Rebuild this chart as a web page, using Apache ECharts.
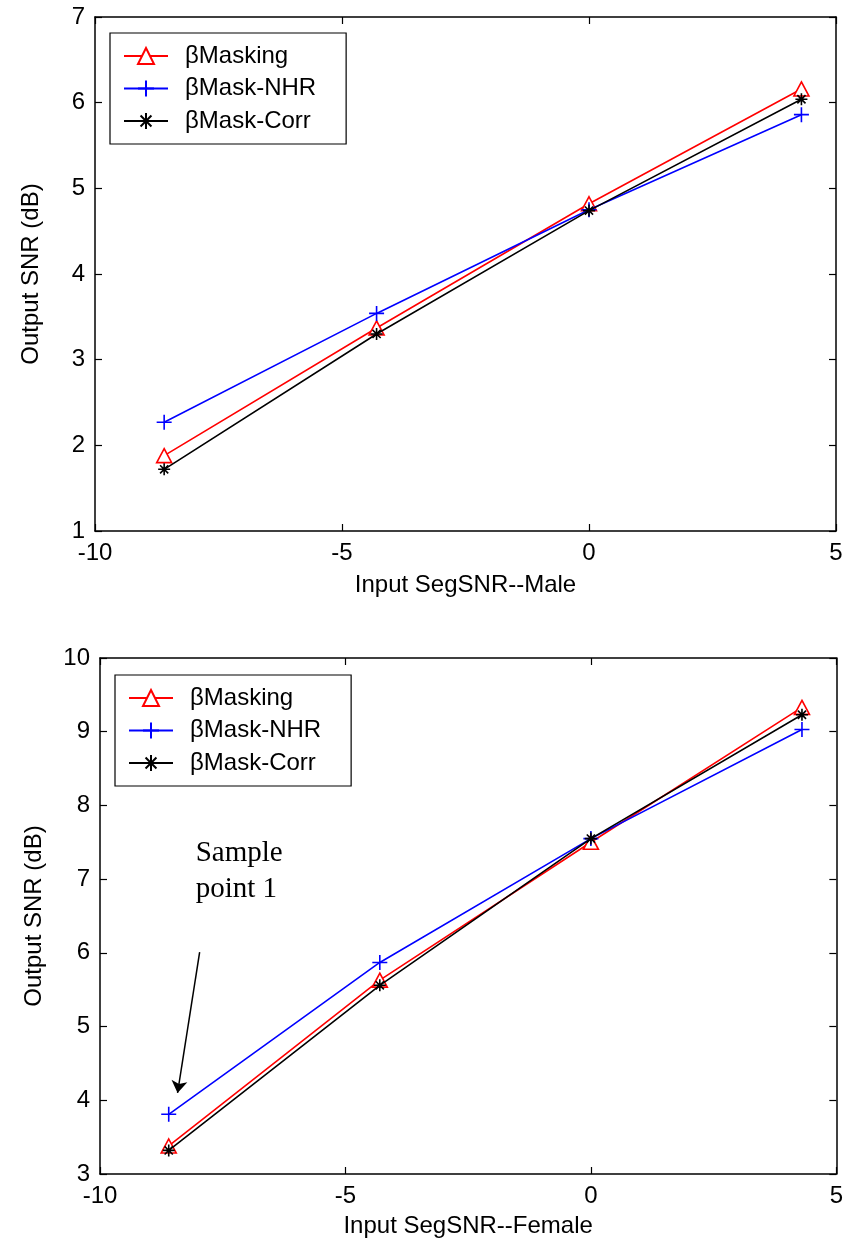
<!DOCTYPE html>
<html>
<head>
<meta charset="utf-8">
<script src="https://cdn.jsdelivr.net/npm/echarts@6/dist/echarts.min.js"></script>
<style>
  html, body { margin: 0; padding: 0; background: #ffffff; }
  #chart { width: 846px; height: 1245px; }
</style>
</head>
<body>
<div id="chart"></div>
<script>
// Input SegSNR (dB) at the four test conditions
const inputSNR = [-8.6, -4.3, 0, 4.3];

// Output SNR (dB), male speech
const maleMasking = [1.88, 3.37, 4.82, 6.16];
const maleNHR     = [2.27, 3.54, 4.75, 5.86];
const maleCorr    = [1.72, 3.30, 4.74, 6.04];

// Output SNR (dB), female speech
const femaleMasking = [3.38, 5.63, 7.50, 9.33];
const femaleNHR     = [3.81, 5.87, 7.55, 9.03];
const femaleCorr    = [3.32, 5.56, 7.55, 9.23];

const seriesNames = ['βMasking', 'βMask-NHR', 'βMask-Corr'];
const xTicks = [-10, 5, 5];          // min, max, interval
const yTicksMale = [1, 7, 1];
const yTicksFemale = [3, 10, 1];

// annotation pointing at the first NHR sample of the female curve
const noteText = 'Sample\npoint 1';
const noteArrow = [[-7.97, 6.01], [-8.42, 4.10]];
const noteAnchor = [-8.05, 7.60];

const FONT = '"Liberation Sans", Arial, Helvetica, sans-serif';
const SYM_TRI = 'path://M5,0L10,10L0,10Z';
const SYM_PLUS = 'path://M0,5L10,5M5,0L5,10';
const SYM_STAR = 'path://M5,0L5,10M0,5L10,5M1.6,1.6L8.4,8.4M8.4,1.6L1.6,8.4';

const styles = [
  { color: '#ff0000', fill: '#ffffff', symbol: SYM_TRI, size: [15, 14] },
  { color: '#0000ff', fill: '#0000ff', symbol: SYM_PLUS, size: 15 },
  { color: '#000000', fill: '#000000', symbol: SYM_STAR, size: 12 }
];

function pairs(ys) { return inputSNR.map((x, i) => [x, ys[i]]); }

function makeSeries(values, axisIdx) {
  return values.map((ys, k) => ({
    name: seriesNames[k],
    type: 'line',
    xAxisIndex: axisIdx,
    yAxisIndex: axisIdx,
    data: pairs(ys),
    symbol: styles[k].symbol,
    symbolSize: styles[k].size,
    showAllSymbol: true,
    z: 3 + k,
    color: styles[k].color,
    lineStyle: { color: styles[k].color, width: 1.6 },
    itemStyle: {
      color: styles[k].fill,
      borderColor: styles[k].color,
      borderWidth: 1.6
    },
    emphasis: { disabled: true },
    animation: false
  }));
}

function valueAxis(range, pos, gridIndex, main, extra) {
  return Object.assign({
    type: 'value',
    gridIndex: gridIndex,
    position: pos,
    min: range[0], max: range[1], interval: range[2],
    axisLine: { show: true, onZero: false, lineStyle: { color: '#000', width: 1.5 } },
    axisTick: { show: true, inside: true, length: 7, lineStyle: { color: '#000', width: 1.2 } },
    axisLabel: { show: main, color: '#000', fontFamily: FONT, fontSize: 24, margin: 10 },
    splitLine: { show: false }
  }, extra || {});
}

function legendFor(top, left) {
  return {
    show: true,
    orient: 'vertical',
    left: left, top: top,
    data: seriesNames,
    backgroundColor: '#ffffff',
    borderColor: '#000000',
    borderWidth: 1.2,
    borderRadius: 0,
    padding: [11, 30, 11, 13],
    itemWidth: 44,
    itemHeight: 20,
    itemGap: 8.5,
    selectedMode: false,
    textStyle: { color: '#000', fontFamily: FONT, fontSize: 24, padding: [0, 0, 0, 12] }
  };
}

const nameStyle = { color: '#000', fontFamily: FONT, fontSize: 24 };

const chart = echarts.init(document.getElementById('chart'), null, { renderer: 'canvas' });

const option = {
  backgroundColor: '#ffffff',
  animation: false,
  grid: [
    { left: 95, top: 17, width: 741, height: 514, show: false },
    { left: 100, top: 658, width: 739, height: 516, show: false }
  ],
  legend: [legendFor(33, 110), legendFor(675, 115)],
  xAxis: [
    valueAxis(xTicks, 'bottom', 0, true, {
      name: 'Input SegSNR--Male', nameLocation: 'middle', nameGap: 42, nameTextStyle: nameStyle }),
    valueAxis(xTicks, 'top', 0, false),
    valueAxis(xTicks, 'bottom', 1, true, {
      name: 'Input SegSNR--Female', nameLocation: 'middle', nameGap: 40, nameTextStyle: nameStyle }),
    valueAxis(xTicks, 'top', 1, false)
  ],
  yAxis: [
    valueAxis(yTicksMale, 'left', 0, true, {
      name: 'Output SNR (dB)', nameLocation: 'middle', nameGap: 52, nameTextStyle: nameStyle }),
    valueAxis(yTicksMale, 'right', 0, false),
    valueAxis(yTicksFemale, 'left', 1, true, {
      name: 'Output SNR (dB)', nameLocation: 'middle', nameGap: 54, nameTextStyle: nameStyle }),
    valueAxis(yTicksFemale, 'right', 1, false)
  ],
  series: [].concat(
    makeSeries([maleMasking, maleNHR, maleCorr], 0),
    makeSeries([femaleMasking, femaleNHR, femaleCorr], 2)
  )
};

// arrow of the annotation, drawn in data space of the lower plot
option.series[4].markLine = {
  silent: true,
  symbol: ['none', 'arrow'],
  symbolSize: 12,
  label: { show: false },
  itemStyle: { color: '#000' },
  lineStyle: { color: '#000', width: 1.5, type: 'solid' },
  emphasis: { disabled: true },
  data: [[{ coord: noteArrow[0] }, { coord: noteArrow[1] }]],
  animation: false
};

chart.setOption(option);

const anchor = chart.convertToPixel({ xAxisIndex: 2, yAxisIndex: 2 }, noteAnchor);
chart.setOption({
  graphic: [{
    type: 'text',
    left: anchor[0],
    top: anchor[1],
    style: {
      text: noteText,
      fill: '#000',
      font: '29px "Liberation Serif", "Times New Roman", serif',
      lineHeight: 36
    },
    silent: true
  }]
});
</script>
</body>
</html>
